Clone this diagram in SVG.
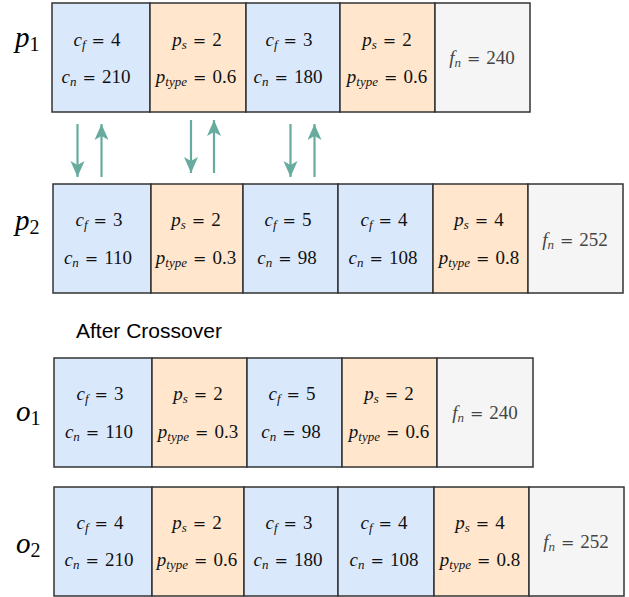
<svg xmlns="http://www.w3.org/2000/svg" width="629" height="597" viewBox="0 0 629 597">
<defs>
<style>
.B{fill:#dae8fc;stroke:#333;stroke-width:1.5}
.O{fill:#ffe6cc;stroke:#333;stroke-width:1.5}
.G{fill:#f5f5f5;stroke:#333;stroke-width:1.5}
.m{font-family:"Liberation Serif",serif;font-size:19px;fill:#111;text-anchor:middle}
.g{fill:#444}
.i{font-style:italic}
.s{font-style:italic;font-size:13px}
.e{font-family:"DejaVu Serif",serif;font-size:16px}
.lab{font-family:"Liberation Serif",serif;font-size:29px;fill:#000}
.ls{font-size:20px}
.t{font-family:"Liberation Sans",Arial,sans-serif;font-size:21px;fill:#000}
.arr{stroke:#67ab9f;stroke-width:2.2;fill:none;marker-end:url(#ah)}
</style>
<marker id="ah" markerUnits="userSpaceOnUse" viewBox="-17 -8 18 16" refX="0" refY="0" markerWidth="18" markerHeight="16" orient="auto">
<path d="M0,0 L-16,-7 L-12,0 L-16,7 Z" fill="#67ab9f"/>
</marker>
</defs>
<rect width="629" height="597" fill="#fff"/>

<g id="label-p1"><text class="lab" x="15" y="47"><tspan class="i">p</tspan><tspan class="ls" dy="4">1</tspan></text></g>
<g id="label-p2"><text class="lab" x="15" y="230"><tspan class="i">p</tspan><tspan class="ls" dy="4">2</tspan></text></g>
<g id="label-o1"><text class="lab" x="16" y="421"><tspan class="i">o</tspan><tspan class="ls" dy="4">1</tspan></text></g>
<g id="label-o2"><text class="lab" x="16" y="553"><tspan class="i">o</tspan><tspan class="ls" dy="4">2</tspan></text></g>

<g id="row-p1">
<rect class="B" x="52" y="3" width="98" height="109"/>
<rect class="O" x="150" y="3" width="96" height="109"/>
<rect class="B" x="246" y="3" width="94" height="109"/>
<rect class="O" x="340" y="3" width="95" height="109"/>
<rect class="G" x="435" y="3" width="95" height="109"/>
<text class="m" x="97" y="46"><tspan class="i">c</tspan><tspan class="s" dy="3">f</tspan><tspan class="e" dx="6" dy="-3">=</tspan><tspan dx="6">4</tspan></text>
<text class="m" x="96" y="83"><tspan class="i">c</tspan><tspan class="s" dy="3">n</tspan><tspan class="e" dx="6" dy="-3">=</tspan><tspan dx="6">210</tspan></text>
<text class="m" x="197" y="46"><tspan class="i">p</tspan><tspan class="s" dy="3">s</tspan><tspan class="e" dx="6" dy="-3">=</tspan><tspan dx="6">2</tspan></text>
<text class="m" x="196" y="83"><tspan class="i">p</tspan><tspan class="s" dy="3">type</tspan><tspan class="e" dx="6" dy="-3">=</tspan><tspan dx="6">0.6</tspan></text>
<text class="m" x="289" y="46"><tspan class="i">c</tspan><tspan class="s" dy="3">f</tspan><tspan class="e" dx="6" dy="-3">=</tspan><tspan dx="6">3</tspan></text>
<text class="m" x="288" y="83"><tspan class="i">c</tspan><tspan class="s" dy="3">n</tspan><tspan class="e" dx="6" dy="-3">=</tspan><tspan dx="6">180</tspan></text>
<text class="m" x="387" y="46"><tspan class="i">p</tspan><tspan class="s" dy="3">s</tspan><tspan class="e" dx="6" dy="-3">=</tspan><tspan dx="6">2</tspan></text>
<text class="m" x="387" y="83"><tspan class="i">p</tspan><tspan class="s" dy="3">type</tspan><tspan class="e" dx="6" dy="-3">=</tspan><tspan dx="6">0.6</tspan></text>
<text class="m g" x="482" y="64"><tspan class="i">f</tspan><tspan class="s" dy="3">n</tspan><tspan class="e" dx="6" dy="-3">=</tspan><tspan dx="6">240</tspan></text>
</g>

<g id="row-p2">
<rect class="B" x="53" y="184" width="98" height="109"/>
<rect class="O" x="151" y="184" width="92" height="109"/>
<rect class="B" x="243" y="184" width="95" height="109"/>
<rect class="B" x="338" y="184" width="95" height="109"/>
<rect class="O" x="433" y="184" width="95" height="109"/>
<rect class="G" x="528" y="184" width="95" height="109"/>
<text class="m" x="99" y="226"><tspan class="i">c</tspan><tspan class="s" dy="3">f</tspan><tspan class="e" dx="6" dy="-3">=</tspan><tspan dx="6">3</tspan></text>
<text class="m" x="98" y="264"><tspan class="i">c</tspan><tspan class="s" dy="3">n</tspan><tspan class="e" dx="6" dy="-3">=</tspan><tspan dx="6">110</tspan></text>
<text class="m" x="196" y="226"><tspan class="i">p</tspan><tspan class="s" dy="3">s</tspan><tspan class="e" dx="6" dy="-3">=</tspan><tspan dx="6">2</tspan></text>
<text class="m" x="196" y="264"><tspan class="i">p</tspan><tspan class="s" dy="3">type</tspan><tspan class="e" dx="6" dy="-3">=</tspan><tspan dx="6">0.3</tspan></text>
<text class="m" x="288" y="226"><tspan class="i">c</tspan><tspan class="s" dy="3">f</tspan><tspan class="e" dx="6" dy="-3">=</tspan><tspan dx="6">5</tspan></text>
<text class="m" x="287" y="264"><tspan class="i">c</tspan><tspan class="s" dy="3">n</tspan><tspan class="e" dx="6" dy="-3">=</tspan><tspan dx="6">98</tspan></text>
<text class="m" x="384" y="226"><tspan class="i">c</tspan><tspan class="s" dy="3">f</tspan><tspan class="e" dx="6" dy="-3">=</tspan><tspan dx="6">4</tspan></text>
<text class="m" x="383" y="264"><tspan class="i">c</tspan><tspan class="s" dy="3">n</tspan><tspan class="e" dx="6" dy="-3">=</tspan><tspan dx="6">108</tspan></text>
<text class="m" x="479" y="226"><tspan class="i">p</tspan><tspan class="s" dy="3">s</tspan><tspan class="e" dx="6" dy="-3">=</tspan><tspan dx="6">4</tspan></text>
<text class="m" x="479" y="264"><tspan class="i">p</tspan><tspan class="s" dy="3">type</tspan><tspan class="e" dx="6" dy="-3">=</tspan><tspan dx="6">0.8</tspan></text>
<text class="m g" x="575" y="246"><tspan class="i">f</tspan><tspan class="s" dy="3">n</tspan><tspan class="e" dx="6" dy="-3">=</tspan><tspan dx="6">252</tspan></text>
</g>

<g id="heading"><text class="t" x="76" y="338">After Crossover</text></g>

<g id="row-o1">
<rect class="B" x="54" y="358" width="98" height="109"/>
<rect class="O" x="152" y="358" width="95" height="109"/>
<rect class="B" x="247" y="358" width="95" height="109"/>
<rect class="O" x="342" y="358" width="95" height="109"/>
<rect class="G" x="437" y="358" width="96" height="109"/>
<text class="m" x="100" y="400"><tspan class="i">c</tspan><tspan class="s" dy="3">f</tspan><tspan class="e" dx="6" dy="-3">=</tspan><tspan dx="6">3</tspan></text>
<text class="m" x="99" y="438"><tspan class="i">c</tspan><tspan class="s" dy="3">n</tspan><tspan class="e" dx="6" dy="-3">=</tspan><tspan dx="6">110</tspan></text>
<text class="m" x="198" y="400"><tspan class="i">p</tspan><tspan class="s" dy="3">s</tspan><tspan class="e" dx="6" dy="-3">=</tspan><tspan dx="6">2</tspan></text>
<text class="m" x="198" y="438"><tspan class="i">p</tspan><tspan class="s" dy="3">type</tspan><tspan class="e" dx="6" dy="-3">=</tspan><tspan dx="6">0.3</tspan></text>
<text class="m" x="292" y="400"><tspan class="i">c</tspan><tspan class="s" dy="3">f</tspan><tspan class="e" dx="6" dy="-3">=</tspan><tspan dx="6">5</tspan></text>
<text class="m" x="291" y="438"><tspan class="i">c</tspan><tspan class="s" dy="3">n</tspan><tspan class="e" dx="6" dy="-3">=</tspan><tspan dx="6">98</tspan></text>
<text class="m" x="389" y="400"><tspan class="i">p</tspan><tspan class="s" dy="3">s</tspan><tspan class="e" dx="6" dy="-3">=</tspan><tspan dx="6">2</tspan></text>
<text class="m" x="389" y="438"><tspan class="i">p</tspan><tspan class="s" dy="3">type</tspan><tspan class="e" dx="6" dy="-3">=</tspan><tspan dx="6">0.6</tspan></text>
<text class="m g" x="485" y="419"><tspan class="i">f</tspan><tspan class="s" dy="3">n</tspan><tspan class="e" dx="6" dy="-3">=</tspan><tspan dx="6">240</tspan></text>
</g>

<g id="row-o2">
<rect class="B" x="54" y="487" width="98" height="109"/>
<rect class="O" x="152" y="487" width="92" height="109"/>
<rect class="B" x="244" y="487" width="94" height="109"/>
<rect class="B" x="338" y="487" width="96" height="109"/>
<rect class="O" x="434" y="487" width="95" height="109"/>
<rect class="G" x="529" y="487" width="95" height="109"/>
<text class="m" x="100" y="529"><tspan class="i">c</tspan><tspan class="s" dy="3">f</tspan><tspan class="e" dx="6" dy="-3">=</tspan><tspan dx="6">4</tspan></text>
<text class="m" x="99" y="566"><tspan class="i">c</tspan><tspan class="s" dy="3">n</tspan><tspan class="e" dx="6" dy="-3">=</tspan><tspan dx="6">210</tspan></text>
<text class="m" x="197" y="529"><tspan class="i">p</tspan><tspan class="s" dy="3">s</tspan><tspan class="e" dx="6" dy="-3">=</tspan><tspan dx="6">2</tspan></text>
<text class="m" x="197" y="566"><tspan class="i">p</tspan><tspan class="s" dy="3">type</tspan><tspan class="e" dx="6" dy="-3">=</tspan><tspan dx="6">0.6</tspan></text>
<text class="m" x="289" y="529"><tspan class="i">c</tspan><tspan class="s" dy="3">f</tspan><tspan class="e" dx="6" dy="-3">=</tspan><tspan dx="6">3</tspan></text>
<text class="m" x="288" y="566"><tspan class="i">c</tspan><tspan class="s" dy="3">n</tspan><tspan class="e" dx="6" dy="-3">=</tspan><tspan dx="6">180</tspan></text>
<text class="m" x="384" y="529"><tspan class="i">c</tspan><tspan class="s" dy="3">f</tspan><tspan class="e" dx="6" dy="-3">=</tspan><tspan dx="6">4</tspan></text>
<text class="m" x="384" y="566"><tspan class="i">c</tspan><tspan class="s" dy="3">n</tspan><tspan class="e" dx="6" dy="-3">=</tspan><tspan dx="6">108</tspan></text>
<text class="m" x="480" y="529"><tspan class="i">p</tspan><tspan class="s" dy="3">s</tspan><tspan class="e" dx="6" dy="-3">=</tspan><tspan dx="6">4</tspan></text>
<text class="m" x="480" y="566"><tspan class="i">p</tspan><tspan class="s" dy="3">type</tspan><tspan class="e" dx="6" dy="-3">=</tspan><tspan dx="6">0.8</tspan></text>
<text class="m g" x="576" y="548"><tspan class="i">f</tspan><tspan class="s" dy="3">n</tspan><tspan class="e" dx="6" dy="-3">=</tspan><tspan dx="6">252</tspan></text>
</g>

<g id="connectors">
<line class="arr" x1="77.5" y1="124" x2="77.5" y2="177"/>
<line class="arr" x1="101.5" y1="177" x2="101.5" y2="124"/>
<line class="arr" x1="191" y1="120" x2="191" y2="173"/>
<line class="arr" x1="214" y1="173" x2="214" y2="120"/>
<line class="arr" x1="290.5" y1="124" x2="290.5" y2="177"/>
<line class="arr" x1="314.5" y1="177" x2="314.5" y2="124"/>
</g>
</svg>
